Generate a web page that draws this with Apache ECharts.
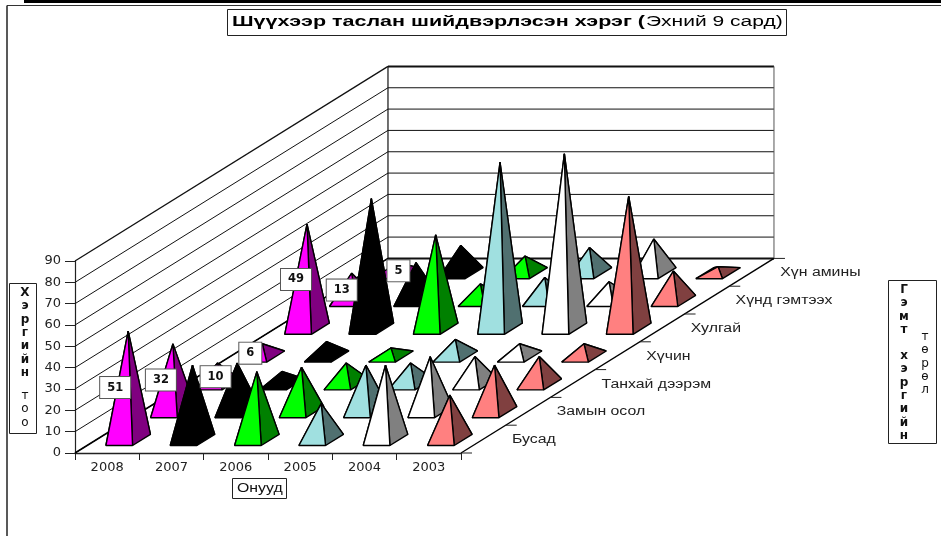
<!DOCTYPE html>
<html><head><meta charset="utf-8">
<style>html,body{margin:0;padding:0;background:#fff}#c{width:941px;height:536px}</style>
<script src="https://cdn.jsdelivr.net/npm/echarts@6/dist/echarts.min.js"></script>
</head><body><div id="c"></div>
<script>
const years = ['2008','2007','2006','2005','2004','2003'];
const crimes = ['Бусад','Замын осол','Танхай дээрэм','Хүчин','Хулгай','Хүнд гэмтээх','Хүн амины'];
const yTicks = [0,10,20,30,40,50,60,70,80,90];
const v2008 = [51,32,10,6,49,13,5];
const v2007 = [35,23,6,7,61,18,13];
const v2006 = [32,21,10,4,44,8,8];
const v2005 = [17,22,10,8,78,11,12];
const v2004 = [35,26,13,6,82,9,16];
const v2003 = [21,22,13,6,62,14,3];
const seriesValues = [v2008,v2007,v2006,v2005,v2004,v2003];
const faceColors = [['#ff00ff','#800080'],['#000000','#000000'],['#00ff00','#008000'],['#a0e0e0','#507070'],['#ffffff','#808080'],['#ff8080','#804040']];
const labelShift = [[-13,2],[-12,2],[-2,3],[-12,3],[-11,3],[-10,3],[2,3]];

// oblique projection: one depth row moves a point by these axis units
const DX = 0.695, DY = 13.03, ROWS = 7, COLS = 6, VMAX = 90;
const HW = 0.207, HD = 0.2, ROW_POS = 0.47;
const INK = '#000';

const chart = echarts.init(document.getElementById('c'), null, {renderer:'canvas'});

function pj(api, col, depth, val){ return api.coord([col + depth*DX, val + depth*DY]); }
function line(a,b,w,c){ return {type:'line',shape:{x1:a[0],y1:a[1],x2:b[0],y2:b[1]},style:{stroke:c||INK,lineWidth:w||1},silent:true}; }
function poly(pts,fill){ return {type:'polygon',shape:{points:pts},style:{fill:fill,stroke:INK,lineWidth:1.4,lineJoin:'bevel'},silent:true}; }

function frameItem(params, api){
  const ch = [];
  yTicks.forEach(function(t,i){
    const a = pj(api,0,0,t), b = pj(api,0,ROWS,t), c = pj(api,COLS,ROWS,t);
    ch.push(line(a,b,i===yTicks.length-1?1.3:1,'#111'));
    ch.push(line(b,c,(i===0||i===yTicks.length-1)?2:1,'#111'));
  });
  ch.push(line(pj(api,0,ROWS,0),pj(api,0,ROWS,VMAX),1.2,'#111'));
  ch.push(line(pj(api,COLS,ROWS,0),pj(api,COLS,ROWS,VMAX),1,'#555'));
  ch.push(line(pj(api,0,0,0),pj(api,0,ROWS,0),1.6));
  ch.push(line(pj(api,COLS,0,0),pj(api,COLS,ROWS,0),1.4));
  for(let r=0;r<=ROWS;r++){
    const p = pj(api,COLS,r,0);
    ch.push(line(p,[p[0]+11,p[1]],1,'#222'));
  }
  crimes.forEach(function(name,r){
    const p = pj(api,COLS,r+ROW_POS,0);
    ch.push({type:'text',x:p[0]+30,y:p[1],silent:true,scaleX:1.32,
      style:{text:name,fill:'#222',font:'12px "Liberation Sans"',textAlign:'left',textVerticalAlign:'middle'}});
  });
  return {type:'group',children:ch};
}

function pyramidItem(params, api){
  const col = api.value(0), row = api.value(1), val = api.value(2);
  const cx = col+0.5, d = row+ROW_POS;
  const fl = pj(api,cx-HW,d-HD,0), fr = pj(api,cx+HW,d-HD,0),
        br = pj(api,cx+HW,d+HD,0), bl = pj(api,cx-HW,d+HD,0),
        top = pj(api,cx,d,val);
  const c = faceColors[col];
  return {type:'group',children:[
    poly([bl,br,top],c[1]),
    poly([fl,bl,top],c[0]),
    poly([fr,br,top],c[1]),
    poly([fl,fr,top],c[0])
  ]};
}

function labelItem(params, api){
  const row = api.value(1), val = api.value(2);
  const p = pj(api,0.5,row+ROW_POS,val/2), s = labelShift[row];
  return {type:'text',x:p[0]+s[0],y:p[1]+s[1],silent:true,z2:50,
    style:{text:String(val),font:'bold 11.5px "DejaVu Sans"',fill:'#111',textAlign:'center',textVerticalAlign:'middle',
      backgroundColor:'#fff',borderColor:'#555',borderWidth:1,padding:[5,7,4,7]}};
}

const cells = [];
for(let r=ROWS-1;r>=0;r--) for(let c=0;c<COLS;c++) cells.push([c,r,seriesValues[c][r]]);
const labelCells = v2008.map(function(v,r){return [0,r,v];});

function vbox(x,y,w,h){ return {type:'rect',shape:{x:x,y:y,width:w,height:h},style:{fill:'#fff',stroke:'#222',lineWidth:1}}; }
function vtext(x,y,t,bold){ return {type:'text',x:x,y:y,style:{text:t.split('').join('\n'),font:(bold?'bold ':'')+'12px "DejaVu Sans"',lineHeight:13.4,fill:'#111',textAlign:'center',textVerticalAlign:'top'}}; }

chart.setOption({
  animation:false,
  backgroundColor:'#fff',
  grid:{left:75,width:386,top:261,height:192,containLabel:false},
  xAxis:[
    {type:'category',data:years,position:'bottom',boundaryGap:true,
      axisLine:{lineStyle:{color:'#222',width:1.4}},axisTick:{show:true,alignWithLabel:false,length:7,lineStyle:{color:'#222'}},
      axisLabel:{color:'#222',fontFamily:'DejaVu Sans',fontSize:13,margin:8},splitLine:{show:false}},
    {type:'value',min:0,max:COLS,show:false}
  ],
  yAxis:{type:'value',min:0,max:VMAX,interval:10,
    axisLine:{show:true,lineStyle:{color:'#222',width:1.2}},axisTick:{show:true,length:10,lineStyle:{color:'#222'}},
    axisLabel:{color:'#222',fontFamily:'DejaVu Sans',fontSize:13,margin:14},splitLine:{show:false}},
  graphic:{elements:[
    {type:'rect',shape:{x:24,y:0,width:917,height:3},style:{fill:'#000'}},
    {type:'line',shape:{x1:7,y1:5.5,x2:941,y2:5.5},style:{stroke:'#333',lineWidth:1}},
    {type:'line',shape:{x1:7,y1:5.5,x2:7,y2:536},style:{stroke:'#222',lineWidth:1.5}},
    {type:'rect',shape:{x:227.5,y:9.5,width:559,height:26},style:{fill:'#fff',stroke:'#222',lineWidth:1}},
    {type:'text',x:232,y:22.5,scaleX:1.535,style:{text:'Шүүхээр таслан шийдвэрлэсэн хэрэг (',font:'bold 14px "Liberation Sans"',fill:'#000',textAlign:'left',textVerticalAlign:'middle'}},
    {type:'text',x:646,y:22.5,scaleX:1.5,style:{text:'Эхний 9 сард)',font:'14px "Liberation Sans"',fill:'#000',textAlign:'left',textVerticalAlign:'middle'}},
    vbox(9.5,283.5,27,150), vtext(25,286,'Хэргийн',true), vtext(25,389,'тоо',false),
    vbox(888.5,280.5,48,163), vtext(904,283,'Гэмт',true), vtext(904,349,'хэргийн',true), vtext(925,330,'төрөл',false),
    {type:'rect',shape:{x:232.5,y:478.5,width:54,height:20},style:{fill:'#fff',stroke:'#222',lineWidth:1}},
    {type:'text',x:237,y:489,scaleX:1.32,style:{text:'Онууд',font:'12px "Liberation Sans"',fill:'#111',textAlign:'left',textVerticalAlign:'middle'}}
  ]},
  series:[
    {type:'custom',name:'frame',xAxisIndex:1,yAxisIndex:0,clip:false,z:1,silent:true,data:[[0,0]],renderItem:frameItem},
    {type:'custom',name:'pyramids',xAxisIndex:1,yAxisIndex:0,clip:false,z:2,silent:true,encode:{x:0,y:2},data:cells,renderItem:pyramidItem},
    {type:'custom',name:'labels',xAxisIndex:1,yAxisIndex:0,clip:false,z:3,silent:true,encode:{x:0,y:2},data:labelCells,renderItem:labelItem}
  ]
});
</script></body></html>
